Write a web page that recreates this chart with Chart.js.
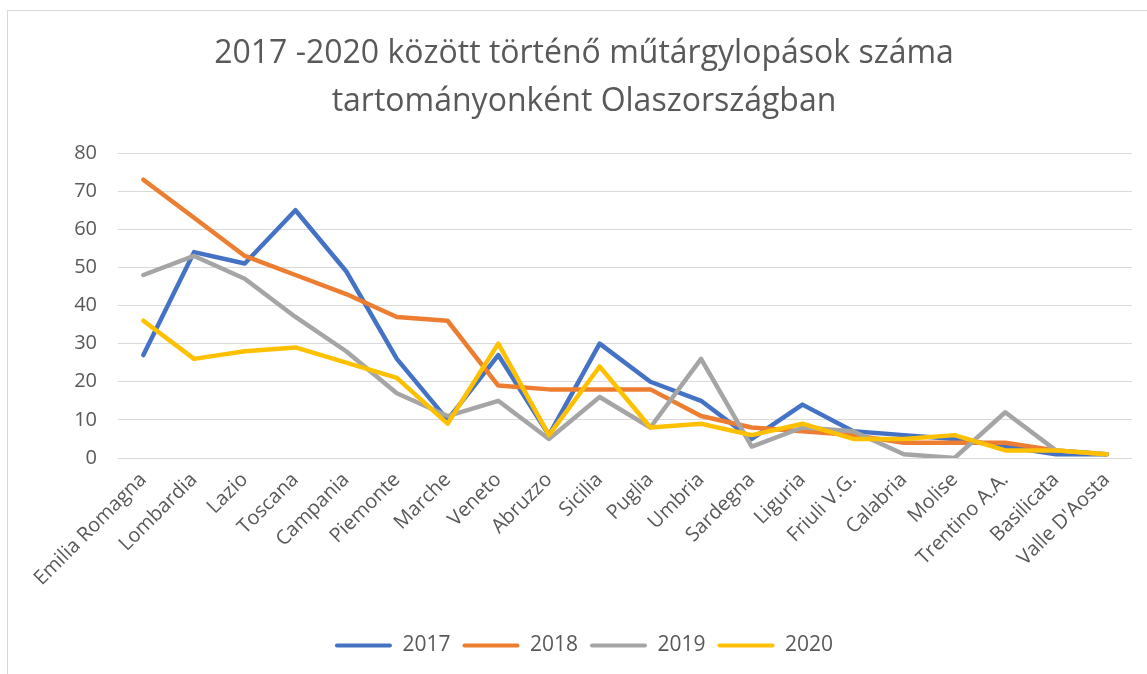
<!DOCTYPE html>
<html>
<head>
<meta charset="utf-8">
<script src="https://cdn.jsdelivr.net/npm/chart.js@4.4.0/dist/chart.umd.min.js"></script>
<style>
  body { margin: 0; background: #fff; overflow: hidden; }
  #wrap {
    position: absolute; left: 7px; top: 10px;
    width: 1152px; height: 678px;
    border: 1px solid #d9d9d9; background: #fff;
  }
</style>
</head>
<body>
<div id="wrap"><canvas id="chart" width="1152" height="678"></canvas></div>
<script>
// regions in Italy, ordered as in the original sheet
const regions = ['Emilia Romagna', 'Lombardia', 'Lazio', 'Toscana', 'Campania', 'Piemonte', 'Marche',
    'Veneto', 'Abruzzo', 'Sicilia', 'Puglia', 'Umbria', 'Sardegna', 'Liguria', 'Friuli V.G.',
    'Calabria', 'Molise', 'Trentino A.A.', 'Basilicata', "Valle D'Aosta"];

const thefts2017 = [27, 54, 51, 65, 49, 26, 10, 27, 6, 30, 20, 15, 5, 14, 7, 6, 5, 3, 1, 1];
const thefts2018 = [73, 63, 53, 48, 43, 37, 36, 19, 18, 18, 18, 11, 8, 7, 6, 4, 4, 4, 2, 1];
const thefts2019 = [48, 53, 47, 37, 28, 17, 11, 15, 5, 16, 8, 26, 3, 8, 7, 1, 0, 12, 2, 1];
const thefts2020 = [36, 26, 28, 29, 25, 21, 9, 30, 6, 24, 8, 9, 6, 9, 5, 5, 6, 2, 2, 1];

const titleLines = ['2017 -2020 között történő műtárgylopások száma', 'tartományonként Olaszországban'];

const textColor = '#595959';
const font = 'Open Sans, Noto Sans, sans-serif';

function series(label, data, color, order) {
    return {
        label: label,
        data: data,
        borderColor: color,
        backgroundColor: color,
        borderWidth: 4.5,
        borderJoinStyle: 'round',
        borderCapStyle: 'round',
        pointRadius: 0,
        pointHoverRadius: 0,
        tension: 0,
        order: order,
    };
}

new Chart(document.getElementById('chart'), {
    type: 'line',
    data: {
        labels: regions,
        datasets: [
            series('2017', thefts2017, '#4472c4', 4),
            series('2018', thefts2018, '#ed7d31', 3),
            series('2019', thefts2019, '#a5a5a5', 2),
            series('2020', thefts2020, '#ffc000', 1),
        ]
    },
    options: {
        responsive: false,
        animation: false,
        // symmetric side padding keeps title and legend centred on the frame
        layout: { padding: { left: 28, right: 28, top: 0, bottom: 23 } },
        plugins: {
            title: {
                display: true,
                text: titleLines,
                color: textColor,
                font: { family: font, size: 32, weight: 'normal', lineHeight: 1.5 },
                padding: { top: 19, bottom: 27 },
            },
            legend: {
                position: 'bottom',
                labels: {
                    color: textColor,
                    font: { family: font, size: 21 },
                    boxWidth: 57,
                    boxHeight: 4,
                    padding: 12,
                    sort: (a, b) => a.datasetIndex - b.datasetIndex,
                    generateLabels(chart) {
                        const items = Chart.defaults.plugins.legend.labels.generateLabels(chart);
                        items.forEach(it => {
                            it.lineWidth = 0;
                            it.fillStyle = it.strokeStyle;
                            it.borderRadius = 2;
                        });
                        return items;
                    }
                }
            },
            tooltip: { enabled: false },
        },
        scales: {
            x: {
                offset: true,
                grid: { display: false, drawTicks: false },
                border: { display: false },
                ticks: {
                    color: textColor,
                    font: { family: font, size: 20 },
                    minRotation: 45,
                    maxRotation: 45,
                    autoSkip: false,
                    padding: 10,
                },
                afterFit(scale) { scale.height = 165; }
            },
            y: {
                min: 0,
                max: 80,
                grid: { color: '#d9d9d9', lineWidth: 1, drawTicks: false },
                border: { display: false },
                ticks: {
                    stepSize: 10,
                    color: textColor,
                    font: { family: font, size: 20 },
                    padding: 21,
                },
                afterFit(scale) { scale.width = 82; }
            }
        }
    }
});
</script>
</body>
</html>
